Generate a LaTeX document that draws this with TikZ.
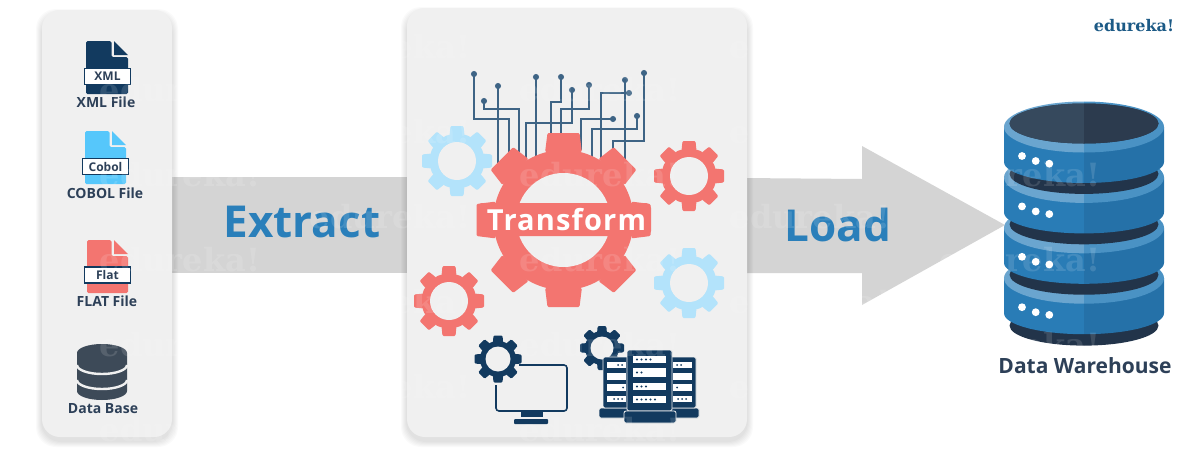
\documentclass[tikz,border=0pt]{standalone}
\usepackage{fontspec}
\setmainfont{Open Sans}
\newfontfamily\logofont{DejaVu Serif}
\newfontfamily\spacedfont{Open Sans}[LetterSpace=4]
\usetikzlibrary{arrows.meta}

\definecolor{cardgray}{HTML}{F0F0F0}
\definecolor{bandgray}{HTML}{D4D4D4}
\definecolor{navy}{HTML}{123A5F}
\definecolor{skyfile}{HTML}{56C7FB}
\definecolor{coral}{HTML}{F37570}
\definecolor{skygear}{HTML}{B3E3FB}
\definecolor{slate}{HTML}{3D4A58}
\definecolor{labelink}{HTML}{2D4058}
\definecolor{wordblue}{HTML}{2A7FBA}
\definecolor{tracecolor}{HTML}{3E6485}
\definecolor{logoblue}{HTML}{1C5A86}
\definecolor{drumgap}{HTML}{22344A}
\definecolor{drumtopleft}{HTML}{36495D}
\definecolor{drumtopright}{HTML}{2C3B4E}

\tikzset{
  filelabel/.style={font=\bfseries\fontsize{14}{14}\selectfont, text=labelink, inner sep=0pt},
  filetag/.style={draw=navy, fill=white, line width=1.4, inner sep=0pt, minimum height=16, text=labelink,
    font=\bfseries\fontsize{12}{12}\selectfont},
  bigword/.style={font=\bfseries\fontsize{44}{44}\selectfont, text=wordblue, inner sep=0pt},
  trace/.style={draw=tracecolor, line width=1.3, {Circle[length=6pt]}-},
  wmark/.style={font=\logofont\bfseries\fontsize{32}{32}\selectfont, text=white, text opacity=.13, inner sep=0pt},
  bit/.style={fill=navy}
}

% cx, cy, tip radius, body radius, hole radius, tooth half width, colour
\newcommand{\gearwheel}[7]{
  \fill[#7] (#1,#2) circle (#4);
  \foreach \a in {0,45,...,315}
    \fill[#7, rounded corners=1.2, shift={(#1,#2)}, rotate=\a]
      ({-1.15*#6},{-#4+2}) -- ({-#6},{-#3}) -- (#6,{-#3}) -- ({1.15*#6},{-#4+2}) -- cycle;
  \fill[cardgray] (#1,#2) circle (#5);
}

% left, top, right, bottom, colour
\newcommand{\fileicon}[5]{
  \fill[#5, rounded corners=1.5] (#1,#2) -- ({#3-16.5},#2) -- ({#3-16.5},{#2+16}) -- (#3,{#2+16}) -- (#3,#4) -- (#1,#4) -- cycle;
  \fill[#5] ({#3-14},#2) -- (#3,{#2+14}) -- ({#3-14},{#2+14}) -- cycle;
}

% left, top, right, bottom of a rack
\newcommand{\rackframe}[4]{
  \fill[navy, draw=cardgray, line width=.8, rounded corners=1.5] (#1,#2) rectangle (#3,#4);
}

% top of the disk (edge height), body, rim colour
\newcommand{\drumdisk}[3]{
  \fill[#2] (1004,#1) -- (1004,{#1+35}) arc[start angle=180, end angle=0, x radius=80, y radius=21] -- (1164,#1) -- cycle;
  \fill[#3] (1084,#1) ellipse [x radius=80, y radius=25.5];
  \fill[drumgap] (1084,{#1-3.5}) ellipse [x radius=74.5, y radius=20];
}

\begin{document}
\begin{tikzpicture}[x=1pt, y=-1pt]
\clip (0,0) rectangle (1200,450);
\fill[white] (0,0) rectangle (1200,450);

% arrows
\fill[bandgray] (165,177) rectangle (415,273);
\fill[bandgray] (740,178) -- (862,179) -- (862,146) -- (1005,225) -- (862,305) -- (862,273) -- (740,273) -- cycle;

% cards
\foreach \s in {1,...,6} {
  \fill[black, opacity=.018, rounded corners=20] ({42-\s},{10-\s+5}) rectangle ({172+\s},{437+\s+4});
  \fill[black, opacity=.018, rounded corners=20] ({407-\s},{8-\s+5}) rectangle ({747+\s},{437+\s+4});
}
\fill[cardgray, rounded corners=18] (42,10) rectangle (172,437);
\fill[cardgray, rounded corners=18] (407,8) rectangle (747,437);

% source files
\fileicon{86}{41}{128}{94}{navy}
\node (xmltag) [filetag, minimum width=46] at (107.5,76.5) {XML};
\node (xmllabel) [filelabel] at (106,102) {XML File};
\fileicon{85}{131}{126}{184}{skyfile}
\node (coboltag) [filetag, minimum width=46] at (105.5,166.5) {Cobol};
\node (cobollabel) [filelabel] at (105,193) {COBOL File};
\fileicon{87}{240}{128}{293}{coral}
\node (flattag) [filetag, minimum width=46] at (107.5,275) {Flat};
\node (flatlabel) [filelabel] at (107,301) {FLAT File};

\fill[slate] (77,353) arc[start angle=180, end angle=360, x radius=25, y radius=9] -- (127,391)
  arc[start angle=0, end angle=180, x radius=25, y radius=9] -- cycle;
\draw[cardgray, line width=2.4] (77,365) arc[start angle=180, end angle=0, x radius=25, y radius=9];
\draw[cardgray, line width=2.4] (77,380) arc[start angle=180, end angle=0, x radius=25, y radius=9];
\node (dblabel) [filelabel] at (103,409) {Data Base};

% circuit
\draw[trace] (474,71) |- (509,119) -- (509,160);
\draw[trace] (498,83) -- (498,165);
\draw[trace] (484,98) |- (519,109) -- (519,155);
\draw[trace] (536,74) -- (536,160);
\draw[trace] (561,74) |- (551,102) -- (551,150);
\draw[trace] (572,87) |- (526,123) -- (526,160);
\draw[trace] (589,82) |- (561,109) -- (561,140);
\draw[trace] (625,77) -- (625,160);
\draw[trace] (632,93) -| (601,160);
\draw[trace] (644,70) |- (613,141) -- (613,160);
\draw[trace] (616,119) -| (581,150);
\draw[trace] (637,113) |- (592,129) -- (592,160);

% gears
\gearwheel{563.5}{220}{87}{70}{47}{16}{coral}
\gearwheel{457}{161}{35}{27.5}{19}{6.5}{skygear}
\gearwheel{689}{176}{35}{27.5}{19}{6.5}{coral}
\gearwheel{689}{283}{35}{27.5}{19}{6.5}{skygear}
\gearwheel{449}{301}{35}{27.5}{19}{6.5}{coral}
\fill[coral, rounded corners=5] (477,203) rectangle (651,236);
\node (transform) [inner sep=0pt, text=white, font=\spacedfont\bfseries\fontsize{29}{29}\selectfont] at (566.5,219.5) {Transform};

% monitor
\draw[navy, line width=1.6, rounded corners=3] (496,385) -- (496,411) -- (567,411) -- (567,365) -- (519,365);
\fill[navy] (521,411) rectangle (543,417);
\fill[navy, rounded corners=1] (514,419) rectangle (548,424);
\gearwheel{498}{359}{23.5}{18}{12.5}{4.5}{navy}

% servers
\gearwheel{602}{348}{22}{17}{11.5}{4.3}{navy}
\fill[navy, draw=cardgray, line width=.8, rounded corners=1.5] (599,408) rectangle (632,418);
\fill[navy, draw=cardgray, line width=.8, rounded corners=1.5] (668,408) rectangle (699,418);
\rackframe{603}{357}{632}{408}
\rackframe{668}{357}{696}{408}
\foreach \y/\h in {362/6,373/7,384/7,396/6} {
  \fill[white] (607,\y) rectangle (626,{\y+\h});
  \fill[white] (673,\y) rectangle (692,{\y+\h});
}
\foreach \x/\y in {618/365,622/365,623/387.5,614/399,618/399,622/399} \fill[bit] (\x,\y) circle (1);
\foreach \x/\y in {677/365,681/365,677/387.5,678/399,682/399,686/399} \fill[bit] (\x,\y) circle (1);
\rackframe{627}{350}{672}{411}
\fill[navy, draw=cardgray, line width=.8, rounded corners=2] (624,411) rectangle (676,423);
\foreach \y/\h in {356/7,368/9,383/7,396/7} \fill[white] (633,\y) rectangle (666,{\y+\h});
\foreach \x/\y in {637/359.5,641.5/359.5,646/359.5,650.5/359.5,
                   637/372.5,641.5/372.5,
                   637/386.5,641.5/386.5,646/386.5,
                   637/399.5,641.5/399.5,646/399.5,650.5/399.5,655/399.5}
  \fill[bit] (\x,\y) circle (1.1);

% words
\node (extract) [bigword] at (302,222) {Extract};
\node (load) [bigword] at (838,225) {Load};

% warehouse
\begin{scope}
  \clip (1000,90) rectangle (1084,360);
  \fill[drumgap] (1084,325.6) ellipse [x radius=74.5, y radius=20];
  \foreach \e in {278.2,227.8,177.4,127} {
    \drumdisk{\e}{wordblue!98!black}{wordblue!70!white}
  }
  \fill[drumtopleft] (1084,123.5) ellipse [x radius=74.5, y radius=20];
\end{scope}
\begin{scope}
  \clip (1084,90) rectangle (1170,360);
  \fill[drumgap] (1084,325.6) ellipse [x radius=74.5, y radius=20];
  \foreach \e in {278.2,227.8,177.4,127} {
    \drumdisk{\e}{wordblue!80!navy}{wordblue!85!white}
  }
  \fill[drumtopright] (1084,123.5) ellipse [x radius=74.5, y radius=20];
\end{scope}
\foreach \k in {0,50.4,100.8,151.2}
  \foreach \x/\y in {1022/156,1035.7/161,1049.3/163.7}
    \fill[white] (\x,{\y+\k}) circle (3.9);
\node (warehouse) [inner sep=0pt, text=labelink, font=\bfseries\fontsize{21}{21}\selectfont] at (1085,366) {Data Warehouse};

% logo
\node (logo) [inner sep=0pt, text=logoblue, font=\logofont\bfseries\fontsize{16}{16}\selectfont] at (1134,26) {edureka!};

% watermark
\foreach \x in {180,600,1020}
  \foreach \y in {90,175,260,345,430}
    \node (wm\x-\y) [wmark] at (\x,\y) {edureka!};
\foreach \x in {390,810}
  \foreach \y in {47,132,217,302,387}
    \node (wm\x-\y) [wmark] at (\x,\y) {edureka!};
\end{tikzpicture}
\end{document}
